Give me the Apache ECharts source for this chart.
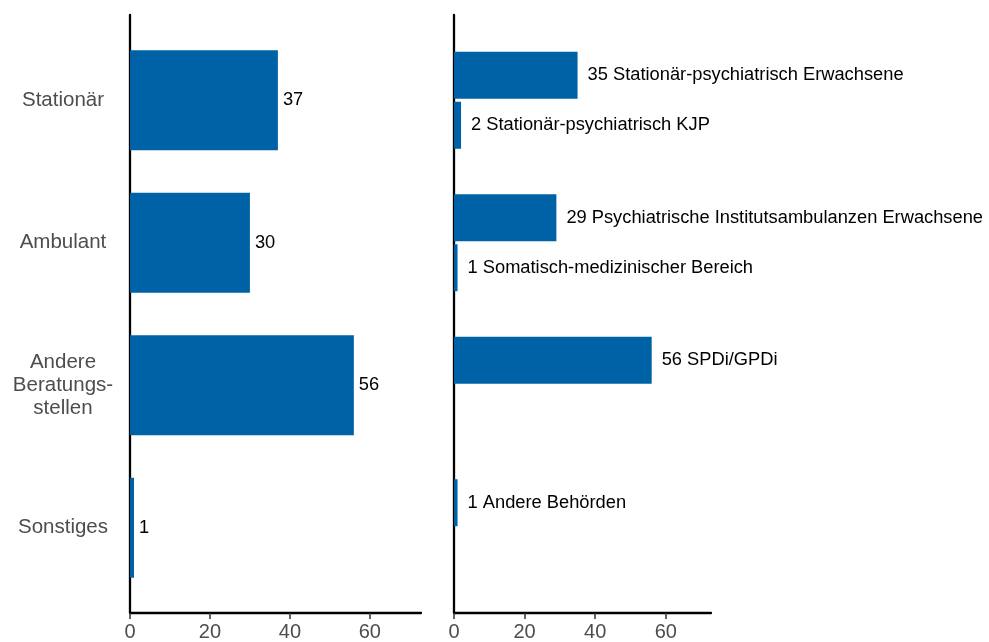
<!DOCTYPE html>
<html>
<head>
<meta charset="utf-8">
<script src="https://cdn.jsdelivr.net/npm/echarts@6/dist/echarts.min.js"></script>
<style>
html,body{margin:0;padding:0;background:#fff;}
#chart{width:989px;height:642px;}
</style>
</head>
<body>
<div id="chart"></div>
<script>
// ---- data ----
const categories = ['Stationär', 'Ambulant', 'Andere\nBeratungs-\nstellen', 'Sonstiges'];
const totals = [37, 30, 56, 1];
const subValuesA = [35, 29, 56, 1];
const subLabelsA = ['Stationär-psychiatrisch Erwachsene', 'Psychiatrische Institutsambulanzen Erwachsene', 'SPDi/GPDi', 'Andere Behörden'];
const subValuesB = [2, 1, null, null];
const subLabelsB = ['Stationär-psychiatrisch KJP', 'Somatisch-medizinischer Bereich', '', ''];
const xMin = 0, xMax = 72.8, xInterval = 20;

// ---- styles ----
const FONT = '"Liberation Sans", Arial, Helvetica, sans-serif';
const BAR = '#0062a6';
const AXIS = '#000000';
const GREY = '#4d4d4d';

function scaffoldX(gi) {
  return {
    gridIndex: gi, type: 'value', min: xMin, max: xMax, interval: xInterval,
    axisLine: {show: true, onZero: false, lineStyle: {color: AXIS, width: 2.3}},
    axisTick: {show: true, length: 6, lineStyle: {color: '#333', width: 1.5}},
    axisLabel: {show: true, color: GREY, fontSize: 20, fontFamily: FONT, margin: 9,
      showMaxLabel: false},
    splitLine: {show: false}
  };
}
function scaffoldY(gi) {
  return {
    gridIndex: gi, type: 'value', min: 0, max: 1,
    axisLine: {show: true, onZero: false, lineStyle: {color: AXIS, width: 2.3}},
    axisTick: {show: false}, axisLabel: {show: false}, splitLine: {show: false}
  };
}
function hiddenX(gi) {
  return {gridIndex: gi, type: 'value', min: xMin, max: xMax, show: false, splitLine: {show: false}};
}

const option = {
  backgroundColor: '#fff',
  animation: false,
  grid: [
    {left: 130, top: 15, width: 291, height: 598},
    {left: 130, top: 29, width: 291, height: 570},
    {left: 454, top: 15, width: 257, height: 598},
    {left: 454, top: 29, width: 257, height: 570}
  ],
  xAxis: [scaffoldX(0), hiddenX(1), scaffoldX(2), hiddenX(3)],
  yAxis: [
    scaffoldY(0),
    {gridIndex: 1, type: 'category', inverse: true, data: categories,
      axisLine: {show: false}, axisTick: {show: false},
      axisLabel: {color: GREY, fontSize: 20.5, fontFamily: FONT, align: 'center', margin: 67, lineHeight: 23}},
    scaffoldY(2),
    {gridIndex: 3, type: 'category', inverse: true, data: categories, show: false}
  ],
  series: [
    {type: 'bar', xAxisIndex: 1, yAxisIndex: 1, data: totals, barWidth: 100,
      itemStyle: {color: BAR},
      label: {show: true, position: 'right', distance: 5, color: '#000', fontSize: 18.3, fontFamily: FONT}},
    {type: 'bar', xAxisIndex: 3, yAxisIndex: 3, data: subValuesA, barWidth: 47, barGap: '6.4%',
      itemStyle: {color: BAR},
      label: {show: true, position: 'right', distance: 10, color: '#000', fontSize: 18.3, fontFamily: FONT,
        formatter: p => p.value + ' ' + subLabelsA[p.dataIndex]}},
    {type: 'bar', xAxisIndex: 3, yAxisIndex: 3, data: subValuesB, barWidth: 47, barGap: '6.4%',
      itemStyle: {color: BAR},
      label: {show: true, position: 'right', distance: 10, color: '#000', fontSize: 18.3, fontFamily: FONT,
        formatter: p => p.value + ' ' + subLabelsB[p.dataIndex]}}
  ]
};

const chart = echarts.init(document.getElementById('chart'), null, {renderer: 'canvas'});
chart.setOption(option);
</script>
</body>
</html>
